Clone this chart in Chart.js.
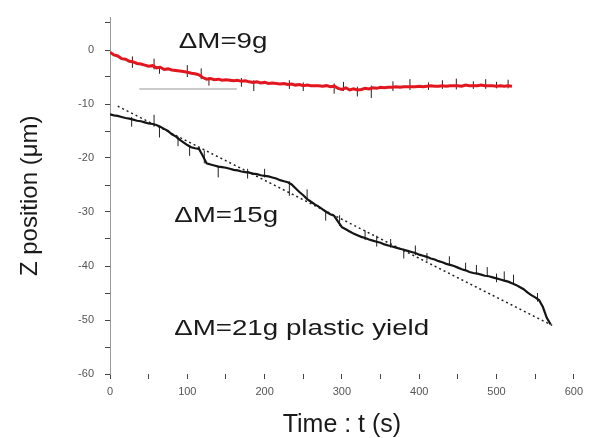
<!DOCTYPE html>
<html><head><meta charset="utf-8">
<script src="https://cdn.jsdelivr.net/npm/chart.js@4.4.1/dist/chart.umd.min.js"></script>
<style>html,body{margin:0;padding:0;background:#fff;}#wrap{width:589px;height:438px;}</style>
</head><body><div id="wrap"><canvas id="c" width="589" height="438"></canvas></div>
<script>
const SAMPLE_STEP = 5;

// ΔM = 9 g trace (red), t = 0 … 520 s
const redZ = [
 -0.4,-0.9,-1.1,-1.6,-1.7,-2.1,-2.2,-2.5,-2.6,-2.8,
 -3.0,-2.9,-3.3,-3.2,-3.6,-3.5,-3.7,-3.8,-3.9,-4.0,
 -4.1,-4.3,-4.4,-4.6,-5.1,-5.4,-5.3,-5.5,-5.4,-5.6,
 -5.5,-5.6,-5.7,-5.6,-5.8,-5.7,-5.9,-6.0,-5.9,-6.1,
 -6.0,-6.2,-6.1,-6.2,-6.3,-6.2,-6.4,-6.3,-6.5,-6.4,
 -6.6,-6.5,-6.6,-6.6,-6.6,-6.7,-6.6,-6.8,-6.7,-7.1,
 -7.3,-7.0,-7.4,-7.2,-7.4,-7.3,-7.1,-7.2,-7.0,-7.1,
 -6.9,-7.0,-6.9,-6.9,-6.8,-6.9,-6.8,-6.8,-6.8,-6.8,
 -6.7,-6.8,-6.7,-6.6,-6.7,-6.7,-6.6,-6.7,-6.6,-6.6,
 -6.6,-6.7,-6.5,-6.6,-6.6,-6.6,-6.5,-6.6,-6.6,-6.6,
 -6.7,-6.6,-6.7,-6.6,-6.7
];
// Noise spikes on the red trace: time, low, high
const redSpikeT  = [29,57,64,100,118,128,170,186,232,250,290,302,320,338,366,388,412,430,448,470,486,500,515];
const redSpikeLo = [-3.3,-3.6,-4.4,-5.0,-5.4,-6.6,-6.8,-7.6,-7.2,-7.6,-8.1,-7.6,-8.6,-8.9,-7.6,-7.4,-7.4,-7.2,-7.3,-7.2,-7.2,-7.1,-7.1];
const redSpikeHi = [-1.2,-1.6,-3.0,-2.8,-3.4,-5.0,-5.2,-5.6,-5.6,-6.0,-6.2,-5.9,-6.8,-6.6,-5.8,-5.4,-6.0,-5.6,-5.3,-5.8,-5.4,-5.9,-5.5];

// ΔM = 15 g / 21 g trace (black), t = 0 … 570 s
const blackZ = [
 -11.9,-12.1,-12.2,-12.4,-12.6,-12.7,-12.9,-13.1,-13.2,-13.4,
 -13.6,-13.7,-13.9,-14.2,-14.6,-15.0,-15.6,-16.0,-16.6,-17.1,
 -17.6,-18.0,-18.2,-18.3,-19.6,-21.0,-21.2,-21.4,-21.6,-21.7,
 -21.8,-22.0,-22.2,-22.3,-22.5,-22.6,-22.7,-22.9,-23.0,-23.2,
 -23.3,-23.4,-23.6,-23.8,-24.1,-24.3,-24.5,-24.9,-25.6,-26.3,
 -26.9,-27.6,-28.1,-28.6,-29.0,-29.5,-30.0,-30.4,-30.7,-31.8,
 -32.8,-33.2,-33.6,-34.0,-34.3,-34.6,-34.8,-35.1,-35.3,-35.5,
 -35.7,-36.0,-36.2,-36.4,-36.6,-36.8,-37.0,-37.2,-37.4,-37.6,
 -37.9,-38.1,-38.3,-38.6,-38.8,-39.1,-39.3,-39.6,-39.8,-40.0,
 -40.3,-40.6,-40.8,-41.1,-41.3,-41.4,-41.6,-41.8,-41.9,-42.1,
 -42.3,-42.5,-42.7,-42.9,-43.2,-43.5,-43.9,-44.3,-44.9,-45.4,
 -45.8,-46.3,-47.6,-49.6,-50.8
];
// Noise spikes on the black trace: time, low, high
const blackSpikeT  = [28,57,64,88,103,122,140,178,200,232,255,279,297,330,345,363,380,395,410,439,460,474,488,500,510,522,553];
const blackSpikeLo = [-14.2,-14.2,-16.2,-17.8,-19.6,-21.0,-23.6,-23.8,-23.6,-27.0,-27.6,-31.6,-32.6,-35.2,-36.4,-36.6,-38.6,-38.0,-39.0,-40.0,-40.9,-41.5,-42.0,-43.0,-42.8,-43.3,-46.6];
const blackSpikeHi = [-12.4,-12.0,-14.0,-16.0,-17.6,-18.6,-21.4,-22.0,-22.0,-24.3,-25.8,-29.8,-30.6,-33.4,-34.4,-35.0,-36.8,-36.2,-37.6,-38.2,-39.4,-39.8,-40.2,-41.4,-41.0,-41.6,-45.0];

// Linear fit (dotted) end points
const fitT = [10, 572];
const fitZ = [-10.4, -51.0];

// Short grey reference segment under the red trace
const refT = [38, 164];
const refZ = [-7.2, -7.2];

// Axis ticks (major labelled, minor unlabelled)
const xTickValues = [0,50,100,150,200,250,300,350,400,450,500,550,600];
const xTickLabels = {0:'0',100:'100',200:'200',300:'300',400:'400',500:'500',600:'600'};
const yTickValues = [-60,-55,-50,-45,-40,-35,-30,-25,-20,-15,-10,-5,0,5];
const yTickLabels = {'-60':'-60','-50':'-50','-40':'-40','-30':'-30','-20':'-20','-10':'-10','0':'0'};

// Annotation texts, anchored in data coordinates (t, z)
const noteTexts = ['\u0394M=9g', '\u0394M=15g', '\u0394M=21g plastic yield'];
const noteT = [89, 83, 83];
const noteZ = [1.5, -30.8, -51.7];

const toXY = (ts, zs) => zs.map((z, i) => ({x: ts[i], y: z}));
const sampled = zs => zs.map((z, i) => ({x: i * SAMPLE_STEP, y: z}));
const spikes = (ts, lo, hi) => ts.flatMap((t, i) => [{x: t, y: lo[i]}, {x: t, y: hi[i]}, {x: t, y: null}]);

const notePlugin = {
  id: 'notes',
  afterDatasetsDraw(chart) {
    const {ctx, scales: {x, y}} = chart;
    ctx.save();
    ctx.fillStyle = '#1a1a1a';
    ctx.font = '22px "Liberation Sans", Arial, sans-serif';
    ctx.textAlign = 'left';
    ctx.textBaseline = 'middle';
    noteTexts.forEach((txt, i) => {
      const px = x.getPixelForValue(noteT[i]);
      const py = y.getPixelForValue(noteZ[i]);
      ctx.save();
      ctx.translate(px, py);
      ctx.scale(1.26, 1);
      ctx.fillText(txt, 0, 0);
      ctx.restore();
    });
    ctx.restore();
  }
};

const tickFont = {family: '"Liberation Sans", Arial, sans-serif', size: 11};

new Chart(document.getElementById('c'), {
  type: 'line',
  data: {
    datasets: [
      {data: toXY(refT, refZ), borderColor: '#b8b8b8', borderWidth: 1.5, pointRadius: 0},
      {data: sampled(redZ), borderColor: '#e3161f', borderWidth: 3, pointRadius: 0, tension: 0},
      {data: spikes(redSpikeT, redSpikeLo, redSpikeHi), borderColor: '#3a1a1a', borderWidth: 1, pointRadius: 0, spanGaps: false},
      {data: sampled(blackZ), borderColor: '#151515', borderWidth: 2.2, pointRadius: 0, tension: 0},
      {data: spikes(blackSpikeT, blackSpikeLo, blackSpikeHi), borderColor: '#222', borderWidth: 1, pointRadius: 0, spanGaps: false},
      {data: toXY(fitT, fitZ), borderColor: '#222', borderWidth: 1.5, borderDash: [2, 3], pointRadius: 0}
    ]
  },
  options: {
    responsive: false,
    animation: false,
    devicePixelRatio: 1,
    layout: {padding: {top: 10, right: 10, left: 0, bottom: 0}},
    plugins: {legend: {display: false}, tooltip: {enabled: false}},
    scales: {
      x: {
        type: 'linear', min: 0, max: 600,
        afterBuildTicks: s => { s.ticks = xTickValues.map(v => ({value: v})); },
        afterFit: s => { s.height = 64; },
        ticks: {autoSkip: false, maxRotation: 0, padding: 6, color: '#555', font: tickFont,
          callback: v => xTickLabels[v] || ''},
        grid: {display: true, drawOnChartArea: false, drawTicks: true, tickLength: 5, color: '#444'},
        border: {display: false},
        title: {display: true, text: 'Time : t (s)', color: '#1a1a1a', padding: {top: 0, bottom: -2},
          font: {family: '"Liberation Sans", Arial, sans-serif', size: 25}}
      },
      y: {
        type: 'linear', min: -60, max: 6,
        afterBuildTicks: s => { s.ticks = yTickValues.map(v => ({value: v})); },
        afterFit: s => { s.width = 110; },
        ticks: {autoSkip: false, padding: 11, color: '#555', font: tickFont,
          callback: v => yTickLabels[String(v)] || ''},
        grid: {display: true, drawOnChartArea: false, drawTicks: true, tickLength: 5, color: '#444'},
        border: {display: true, color: '#999', width: 1},
        title: {display: true, text: 'Z position (\u03bcm)', color: '#1a1a1a', padding: {top: 16, bottom: 0},
          font: {family: '"Liberation Sans", Arial, sans-serif', size: 24}}
      }
    }
  },
  plugins: [notePlugin]
});
</script>
</body></html>
